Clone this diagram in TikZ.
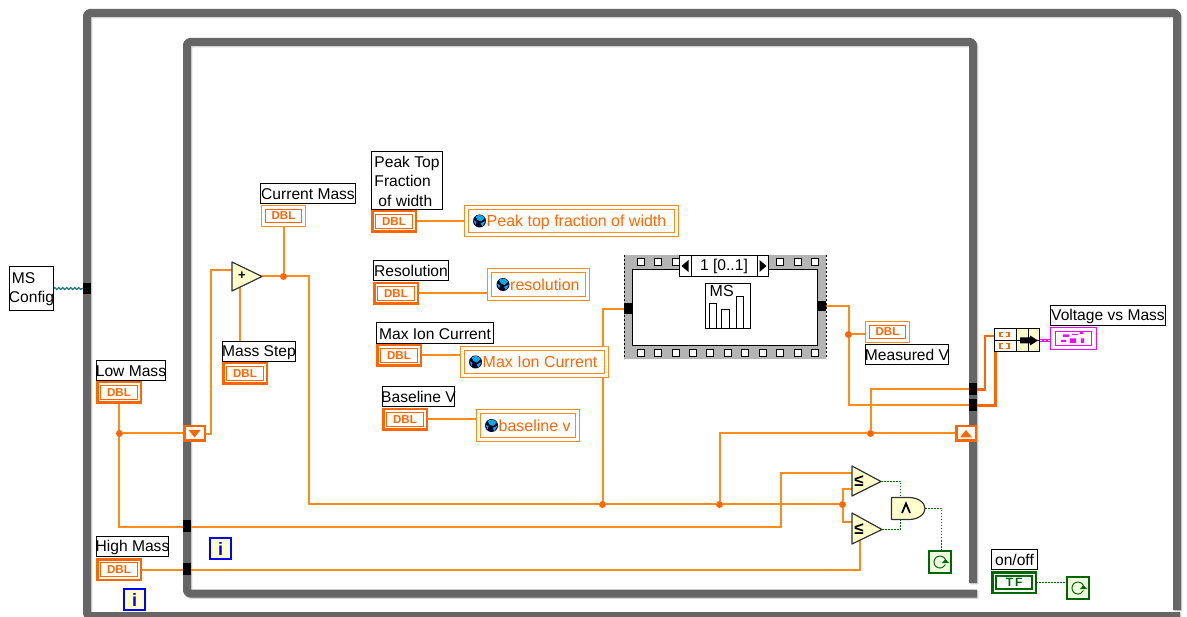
\documentclass[tikz,border=0pt]{standalone}
\usepackage{fontspec}
\setmainfont{Liberation Sans}
\usetikzlibrary{backgrounds,calc,decorations.pathmorphing}
\definecolor{frameg}{HTML}{666666}
\definecolor{fringe}{HTML}{D4D4D4}
\definecolor{wireo}{HTML}{FF8C1A}
\definecolor{termo}{HTML}{FF6600}
\definecolor{yel}{HTML}{FFFFCC}
\definecolor{tfg}{HTML}{006600}
\definecolor{pinkw}{HTML}{FF00FF}
\definecolor{tealw}{HTML}{1F7F7F}
\definecolor{seqg}{HTML}{B4B4B4}
\definecolor{stopf}{HTML}{F0FFE0}
\definecolor{globec}{HTML}{10A8E0}
\tikzset{
  base/.style={rectangle,inner sep=0pt,outer sep=0pt},
  labelbox/.style={base,draw=black,line width=1.3pt,fill=white},
  labeltext/.style={inner sep=0pt,text=black,align=left,font=\fontsize{15.6}{19.5}\selectfont},
  ctrlout/.style={base,draw=termo,line width=2.6pt,fill=white},
  ctrlin/.style={base,draw=termo,line width=1.3pt,fill=white,text=termo,font=\fontsize{11.5}{12}\selectfont\bfseries},
  indout/.style={base,draw=wireo,line width=1.6pt,fill=white},
  indin/.style={base,draw=termo,line width=1.8pt,fill=white,text=termo,font=\fontsize{11.5}{12}\selectfont\bfseries},
  globalbox/.style={base,draw=wireo,line width=1.6pt,fill=white},
  tunnel/.style={base,fill=black},
  wire/.style={draw=wireo,line width=2pt},
  thickwire/.style={draw=termo,line width=2.6pt},
  boolwire/.style={draw=tfg,line width=1.5pt,dash pattern=on 1.5pt off 1.5pt},
  joint/.style={circle,fill=termo,inner sep=0pt,minimum size=7pt,outer sep=0pt},
  prim/.style={draw=black!80,line width=1.2pt,fill=yel,line join=round},
  loopi/.style={base,draw=blue,line width=2.4pt,fill=yel,text=blue,font=\fontsize{18}{18}\selectfont\bfseries},
  stopbox/.style={base,draw=tfg,line width=1.3pt,fill=stopf},
  shiftreg/.style={base,draw=termo,line width=2.6pt,fill=white},
  framebar/.style={draw=frameg,line width=8pt,line join=round,rounded corners=3pt},
  framefr/.style={draw=fringe,line width=8pt,line join=round,rounded corners=3pt},
}
\newcommand{\bx}[7]{%
  \pgfmathsetmacro{\bxw}{#5-#3}\pgfmathsetmacro{\bxh}{#6-#4}%
  \pgfmathsetmacro{\bxcx}{(#5+#3)/2}\pgfmathsetmacro{\bxcy}{(#6+#4)/2}%
  \node[#1,minimum width=\bxw pt,minimum height=\bxh pt] (#2) at (\bxcx,\bxcy) {#7};}
\newcommand{\lb}[6]{% name,x1,y1,x2,y2,text: a black label, outer pixel bounds
  \pgfmathsetmacro{\bxw}{#4-#2-1}\pgfmathsetmacro{\bxh}{#5-#3-1}%
  \pgfmathsetmacro{\bxcx}{(#4+#2)/2}\pgfmathsetmacro{\bxcy}{(#5+#3)/2}%
  \node[labelbox,minimum width=\bxw pt,minimum height=\bxh pt] (#1) at (\bxcx,\bxcy) {};
  \node[labeltext,yshift=-0.8pt] at (#1) {#6};}
\newcommand{\ctrl}[3]{% name,x,y
  \pgfmathsetmacro{\tx}{#2+23}\pgfmathsetmacro{\ty}{#3+11.5}%
  \node[ctrlout,minimum width=43.6pt,minimum height=20.6pt] (#1) at (\tx,\ty) {};
  \node[ctrlin,minimum width=37pt,minimum height=14pt] at (#1) {DBL};}
\newcommand{\indic}[3]{%
  \pgfmathsetmacro{\tx}{#2+22.5}\pgfmathsetmacro{\ty}{#3+11}%
  \node[indout,minimum width=44pt,minimum height=21pt] (#1) at (\tx,\ty) {};
  \node[indin,minimum width=36pt,minimum height=13pt] at (#1) {DBL};}
\newcommand{\globe}[2]{% x,y
  \fill[black!85!blue] (#1,#2) circle (6.5pt);
  \fill[globec] (#1-4,#2-4.5) .. controls (#1,#2-7) and (#1+3,#2-6) .. (#1+5,#2-3) -- (#1+1.5,#2+0.5) -- (#1-2,#2-1) -- cycle;
  \fill[globec] (#1+6,#2) -- (#1+1,#2+2.5) -- (#1+3,#2+5.5) -- cycle;
  \fill[globec] (#1-6,#2-1) -- (#1-3,#2+1) -- (#1-4,#2+4) -- cycle;}
\newcommand{\glob}[7]{% name,x1,y1,x2,y2,text,globex
  \pgfmathsetmacro{\bxw}{#4-#2-1}\pgfmathsetmacro{\bxh}{#5-#3-1}%
  \pgfmathsetmacro{\bxcx}{(#4+#2)/2}\pgfmathsetmacro{\bxcy}{(#5+#3)/2}%
  \node[globalbox,minimum width=\bxw pt,minimum height=\bxh pt] (#1) at (\bxcx,\bxcy) {};
  \pgfmathsetmacro{\gin}{#4-#2-9}\pgfmathsetmacro{\ginh}{#5-#3-9}%
  \node[globalbox,minimum width=\gin pt,minimum height=\ginh pt] at (#1) {};
  \node[text=termo,font=\fontsize{16}{18}\selectfont,anchor=base west,inner sep=0pt] at ($(#7+7,#3/2+#5/2+6)$) {#6};
  \pgfmathsetmacro{\gy}{(#3+#5)/2}\globe{#7}{\gy}}
\newcommand{\stopic}[3]{% name,x1,y1
  \pgfmathsetmacro{\sx}{#2+11.5}\pgfmathsetmacro{\sy}{#3+11.5}%
  \node[stopbox,minimum width=22pt,minimum height=22pt] (#1) at (\sx,\sy) {};
  \draw[tfg,line width=1pt] ($(#1)+(5.4,-2.5)$) arc[start angle=25,end angle=335,radius=6pt];
  \fill[tfg] ($(#1)+(2,1)$) -- ($(#1)+(9,1)$) -- ($(#1)+(5.5,-3)$) -- cycle;}
\begin{document}
\begin{tikzpicture}[x=1pt,y=-1pt]
\useasboundingbox (0,0) rectangle (1187,617);

% ---------- nodes ----------
\lb{config}{9}{266}{54}{311}{\hspace*{3pt}MS\\Config}
\bx{tunnel}{tconfig}{83}{283}{91}{294}{}

\lb{lcm}{260}{183}{356}{204}{Current Mass}
\indic{cm}{261}{205}
\lb{lms}{222}{341}{296}{362}{Mass Step}
\ctrl{ms}{222}{362}
\lb{llow}{96}{360}{166}{381}{Low Mass}
\ctrl{low}{96}{381}
\lb{lhigh}{96}{536}{169}{557}{High Mass}
\ctrl{high}{96}{558}

\bx{shiftreg}{srl}{184.2}{426.2}{204.8}{440.8}{}
\fill[termo] (188.5,430) -- (200.5,430) -- (194.5,437.5) -- cycle;
\bx{shiftreg}{srr}{956.2}{426.2}{976}{440.8}{}
\fill[termo] (960,437.5) -- (972,437.5) -- (966,430) -- cycle;

\bx{tunnel}{tlow}{183}{520}{191}{532}{}
\bx{tunnel}{thigh}{183}{563}{191}{575}{}
\bx{loopi}{iin}{210}{538}{231}{559}{i}
\bx{loopi}{iout}{124}{589}{145}{610}{i}

% add
\coordinate (addout) at (262,276.5);
\coordinate (addin1) at (232,270.5);
\coordinate (addin2) at (239.5,287.5);
\draw[prim] (232,262) -- (addout) -- (232,291) -- cycle;
\node[font=\fontsize{13}{13}\selectfont\bfseries,inner sep=0pt] (addsym) at (242,276) {+};
\node[joint] (jcm) at (283.5,276.5) {};

% globals
\lb{lpeak}{371}{151}{443}{210}{Peak Top\\Fraction\\\hspace*{4pt}of width}
\ctrl{peak}{371}{210}
\glob{gpeak}{464}{205}{679}{237}{Peak top fraction of width}{479.5}
\lb{lres}{373}{260}{449}{281}{Resolution}
\ctrl{res}{373}{282}
\glob{gres}{487}{268}{590}{301}{resolution}{503}
\lb{lmax}{376}{322}{494}{344}{Max Ion Current}
\ctrl{max}{376}{344}
\glob{gmax}{460}{346}{609}{378}{Max Ion Current}{475.5}
\lb{lbase}{382}{386}{455}{407}{Baseline V}
\ctrl{base}{382}{408}
\glob{gbase}{476}{409}{580}{442}{baseline v}{491.5}

% sequence
\bx{base,fill=seqg}{seq}{624}{255}{826}{359}{}
\draw[black,line width=1pt,dash pattern=on 2pt off 2pt] (624,255) -- (624,359);
\draw[black,line width=1pt,dash pattern=on 2pt off 2pt] (826,255) -- (826,359);
\bx{base,fill=white,draw=black,line width=1.3pt}{seqin}{632.5}{269.5}{817.5}{345.5}{}
\foreach \sqx in {641,658,676,780,798,815}
  \draw[black,line width=1pt,fill=white] (\sqx-3.5,258.5) rectangle (\sqx+3.5,265.5);
\foreach \sqx in {641,658,676,693,710,728,745,763,780,798,815}
  \draw[black,line width=1pt,fill=white] (\sqx-3.5,349.5) rectangle (\sqx+3.5,356.5);
\bx{base,draw=black,line width=1.1pt,fill=white,font=\fontsize{15.6}{15}\selectfont}{sel}{679.5}{255.5}{768.5}{276.5}{1 [0..1]}
\draw[black,line width=1pt] (691.5,255.5) -- (691.5,276.5) (757.5,255.5) -- (757.5,276.5);
\fill[black] (688.5,260) -- (688.5,272) -- (681.5,266) -- cycle;
\fill[black] (759.5,260) -- (759.5,272) -- (766.5,266) -- cycle;
\bx{tunnel}{tseql}{624}{303.5}{632}{314}{}
\bx{tunnel}{tseqr}{818}{301}{826}{311.5}{}
\lb{msvi}{705}{283}{751}{329}{}
\node[font=\fontsize{16}{16}\selectfont,inner sep=0pt,anchor=north west] (mstext) at (709.5,285.5) {MS};
\draw[black,line width=1pt] (709.5,328.5) -- (709.5,303.5) -- (716.5,303.5) -- (716.5,328.5)
  (721.5,328.5) -- (721.5,309.5) -- (729.5,309.5) -- (729.5,328.5)
  (736.5,328.5) -- (736.5,296.5) -- (743.5,296.5) -- (743.5,328.5);

\node[joint] (jv) at (848.5,334.5) {};
\indic{mv}{865}{321}
\lb{lmv}{865}{344}{949}{365}{Measured V}

% loop tunnels
\bx{tunnel}{tv1}{969}{383}{977}{395}{}
\bx{tunnel}{tv2}{969}{399}{977}{411}{}
\node[joint] (jstop) at (870.5,433.5) {};
\node[joint] (j1) at (602.5,504.5) {};
\node[joint] (j2) at (719.5,504.5) {};
\node[joint] (j3) at (842.5,504.5) {};
\node[joint] (jlow) at (119.5,433.5) {};

% comparators
\coordinate (c1in1) at (852,473.5);
\coordinate (c1in2) at (852,489.5);
\coordinate (c1out) at (881,481.5);
\coordinate (c2in1) at (852,522.5);
\coordinate (c2in2) at (859.5,540);
\coordinate (c2out) at (882,529.5);
\draw[prim] (852,466) -- (c1out) -- (852,496) -- cycle;
\draw[prim] (852,513) -- (c2out) -- (852,544) -- cycle;
\node[font=\fontsize{17}{17}\selectfont\bfseries,inner sep=0pt] (c1sym) at (859,481) {≤};
\node[font=\fontsize{17}{17}\selectfont\bfseries,inner sep=0pt] (c2sym) at (859,529) {≤};
% and
\draw[prim] (891.5,497.5) -- (909,497.5) arc[start angle=90,end angle=-90,x radius=16pt,y radius=11pt] -- (891.5,519.5) -- cycle;
\coordinate (andin1) at (900.5,497.5);
\coordinate (andin2) at (900.5,519.5);
\coordinate (andout) at (925,508.5);
\draw[black,line width=1.8pt] (902,513) -- (906,503.5) -- (910,513);
\stopic{stop1}{928.5}{550.5}

% on/off
\lb{lonoff}{991}{549}{1038}{570}{on/off}
\bx{base,draw=tfg,line width=2.6pt,fill=white}{tf}{992.2}{572.2}{1036}{592.8}{}
\node[base,draw=tfg,line width=1.3pt,fill=white,text=tfg,minimum width=36pt,minimum height=13pt,font=\fontsize{12}{12}\selectfont\bfseries] at (tf) {T\,F};
\stopic{stop2}{1066.5}{576.5}

% bundle
\bx{base,draw=black,line width=1pt,fill=white}{bun1}{994.5}{328.5}{1016.5}{340.5}{}
\bx{base,draw=black,line width=1pt,fill=white}{bun2}{994.5}{340.5}{1016.5}{351.5}{}
\foreach \by in {334.5,346}{
  \draw[termo,line width=1.2pt] (1003,\by-2.2) -- (1000,\by-2.2) -- (1000,\by+2.2) -- (1003,\by+2.2)
    (1006,\by-2.2) -- (1009,\by-2.2) -- (1009,\by+2.2) -- (1006,\by+2.2);
}
\bx{base,draw=black,line width=1pt,fill=yel}{bun3}{1016.5}{328.5}{1028.5}{340.5}{}
\bx{base,draw=black,line width=1pt,fill=yel}{bun4}{1028.5}{328.5}{1039.5}{340.5}{}
\bx{base,draw=black,line width=1pt,fill=yel}{bun5}{1016.5}{340.5}{1028.5}{351.5}{}
\bx{base,draw=black,line width=1pt,fill=yel}{bun6}{1028.5}{340.5}{1039.5}{351.5}{}
\fill[black] (1020,337.5) rectangle (1030,343.5) (1030,335.5) -- (1038,340.5) -- (1030,345.5) -- cycle;

% waveform graph indicator
\bx{base,draw=pinkw,line width=1.6pt,fill=white}{vm}{1050.5}{327.5}{1096.5}{349.5}{}
\node[base,draw=pinkw,line width=1.8pt,minimum width=36pt,minimum height=14pt,fill=white] (vmin) at (vm) {};
\fill[pinkw] (1063,334.5) rectangle (1069,337) (1072,334) rectangle (1078,335) (1080,332) rectangle (1083,334) (1061,340) rectangle (1066,342) (1070,338.5) rectangle (1076,343) (1081,338.5) rectangle (1084,343);
\lb{lvm}{1050}{305}{1166}{326}{Voltage vs Mass}

% ---------- behind: frames and wires ----------
\begin{pgfonlayer}{background}
\fill[white] (0,0) rectangle (1187,617);
\begin{scope}[shift={(1.3,1.3)}]
\draw[framefr] (1177,610) -- (1177,13) -- (87,13) -- (87,616) -- (1180,616);
\draw[framefr] (973,583) -- (973,42) -- (187,42) -- (187,593.5) -- (977,593.5);
\end{scope}
\draw[framebar] (1177,610) -- (1177,13) -- (87,13) -- (87,616) -- (1180,616);
\draw[framebar] (973,583) -- (973,42) -- (187,42) -- (187,593.5) -- (977,593.5);

\draw[tealw,line width=1.3pt,decorate,decoration={snake,amplitude=0.9pt,segment length=4pt}] (config.east |- tconfig) -- (tconfig.west);

\draw[wire] (cm.south) -- (jcm);
\draw[wire] (addin2) -- (ms.south -| addin2);
\draw[wire] (addin1) -- (210.5,270.5) -- (210.5,434.5) -- (srl.east |- 0,434.5);
\draw[wire] (addout) -- (308.5,276.5) -- (308.5,504.5) -- (j1) -- (j2) -- (j3);
\draw[wire] (j3) -- (842.5,489.5) -- (c1in2);
\draw[wire] (j3) -- (842.5,522.5) -- (c2in1);
\draw[wire] (low.south) -- (119,527.5) -- (tlow.west |- 0,527.5);
\draw[wire] (tlow.east |- 0,527.5) -- (780.5,527.5) -- (780.5,473.5) -- (c1in1);
\draw[wire] (jlow) -- (srl.west |- jlow);
\draw[wire] (high.east) -- (thigh.west |- high.east);
\draw[wire] (thigh.east |- high.east) -- (859.5,569.5) -- (c2in2);

\draw[wire] (peak.east) -- (gpeak.west |- peak.east);
\draw[wire] (res.east) -- (gres.west |- res.east);
\draw[wire] (max.east) -- (gmax.west |- max.east);
\draw[wire] (base.east) -- (gbase.west |- base.east);

\draw[wire] (j1) -- (602.5,309.5) -- (tseql.west |- 0,309.5);
\draw[wire] (j2) -- (719.5,433.5) -- (jstop) -- (srr.west |- jstop);
\draw[wire] (jstop) -- (870.5,389.5) -- (tv1.west |- 0,389.5);
\draw[wire] (msvi.east |- 0,306.5) -- (tseqr.west |- 0,306.5);
\draw[wire] (tseqr.east |- 0,306.5) -- (848.5,306.5) -- (848.5,405.5) -- (tv2.west |- 0,405.5);
\draw[wire] (jv) -- (mv.west |- jv);

\draw[thickwire] (tv1.east |- 0,389.5) -- (985,389.5) -- (985,336) -- (bun1.west |- 0,336);
\draw[thickwire] (tv2.east |- 0,405.5) -- (995.5,405.5) -- (995.5,351.5);

\draw[pinkw,line width=3pt] (bun6.east |- 0,340.5) -- (vm.west |- 0,340.5);
\draw[white,line width=1pt,dash pattern=on 2.5pt off 1.5pt] (bun6.east |- 0,340.5) -- (vm.west |- 0,340.5);

\draw[boolwire] (c1out) -- (900.5,481.5) -- (andin1);
\draw[boolwire] (c2out) -- (900.5,529.5) -- (andin2);
\draw[boolwire] (andout) -- (941.5,508.5) -- (stop1.north -| 941.5,0);
\draw[boolwire] (tf.east) -- (stop2.west |- tf.east);
\end{pgfonlayer}
\end{tikzpicture}
\end{document}
